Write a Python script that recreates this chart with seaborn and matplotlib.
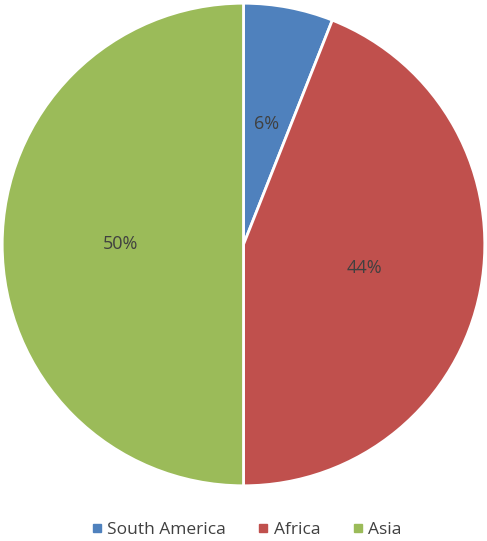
import matplotlib
matplotlib.use("Agg")
import matplotlib.pyplot as plt
from matplotlib.lines import Line2D
import seaborn as sns

# data
regions = ["South America", "Africa", "Asia"]
shares = [6, 44, 50]
colors = ["#4F81BD", "#C0504D", "#9BBB59"]

sns.set_theme(style="white")
plt.rcParams["font.family"] = ["Open Sans", "DejaVu Sans"]

fig = plt.figure(figsize=(4.87, 5.41), dpi=100)
ax = fig.add_axes([1 / 487, 53 / 541, 485 / 487, 487 / 541])

wedges, texts, autotexts = ax.pie(
    shares, colors=colors, startangle=90, counterclock=False,
    autopct="%1.0f%%", pctdistance=0.51,
    wedgeprops=dict(edgecolor="white", linewidth=2),
    textprops=dict(color="#404040", fontsize=13),
)
ax.set_xlim(-1.005, 1.005)
ax.set_ylim(-1.005, 1.005)
ax.set_aspect("equal")
ax.axis("off")

# legend along the bottom
handles = [Line2D([0], [0], marker="s", linestyle="", markersize=5.8,
                  markerfacecolor=c, markeredgecolor=c) for c in colors]
fig.legend(handles, regions, loc="center", bbox_to_anchor=(0.507, 0.02),
           ncol=3, frameon=False, handlelength=0.5, handletextpad=0.35,
           columnspacing=1.9, fontsize=12.5, labelcolor="#404040",
           borderpad=0)

fig.savefig("out.png", dpi=100, facecolor="white")
